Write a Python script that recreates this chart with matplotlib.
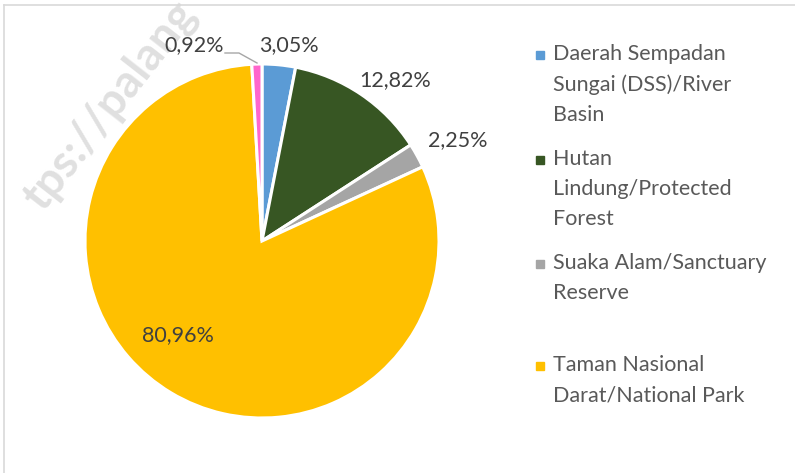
import numpy as np
import matplotlib
matplotlib.use('Agg')
import matplotlib.pyplot as plt
from matplotlib.patches import Rectangle

# data
labels = ['Daerah Sempadan\nSungai (DSS)/River\nBasin',
          'Hutan\nLindung/Protected\nForest',
          'Suaka Alam/Sanctuary\nReserve',
          'Taman Nasional\nDarat/National Park',
          '']
values = [3.05, 12.82, 2.25, 80.96, 0.92]
pct_text = ['3,05%', '12,82%', '2,25%', '80,96%', '0,92%']
colors = ['#5B9BD5', '#375623', '#A5A5A5', '#FFC000', '#FF66CC']

W, H = 795, 473
plt.rcParams['font.family'] = ['Lato', 'DejaVu Sans']
fig = plt.figure(figsize=(W / 100, H / 100), dpi=100)
ax = fig.add_axes([0, 0, 1, 1])

# pie (y axis is inverted below, so counterclock draws clockwise on screen)
cx, cy, r = 262, 241, 177
ax.pie(values, colors=colors, startangle=-90, counterclock=True,
       center=(cx, cy), radius=r, frame=True,
       wedgeprops=dict(edgecolor='white', linewidth=2.2, zorder=2))
ax.set_xlim(0, W)
ax.set_ylim(H, 0)
ax.set_aspect('equal')
ax.axis('off')

# watermark
ax.text(110, 106, 'tps://palang', fontsize=33, color='#e0e0e0', rotation=52,
        ha='center', va='center', fontweight='bold', zorder=0)

# frame
ax.plot([4, 4], [H, 5], color='#d9d9d9', lw=1.2)
ax.plot([4, W], [5, 5], color='#d9d9d9', lw=1.2)

# data labels
pos = [(289, 45), (395, 80), (458, 140), (178, 335), (194, 45)]
for (x, y), t in zip(pos, pct_text):
    ax.text(x, y, t, fontsize=15.5, color='#404040', ha='center', va='center')
ax.plot([225, 239, 257], [53, 53, 63], color='#a6a6a6', lw=1)

# legend
leg_y = [55, 160, 264, 366]
for y, lab, c in zip(leg_y, labels[:4], colors[:4]):
    ax.add_patch(Rectangle((536, y - 4), 8, 8, color=c))
    ax.text(553, y - 11, lab, fontsize=15.5, color='#595959', ha='left',
            va='top', linespacing=1.63)

fig.savefig('out.png', dpi=100)
